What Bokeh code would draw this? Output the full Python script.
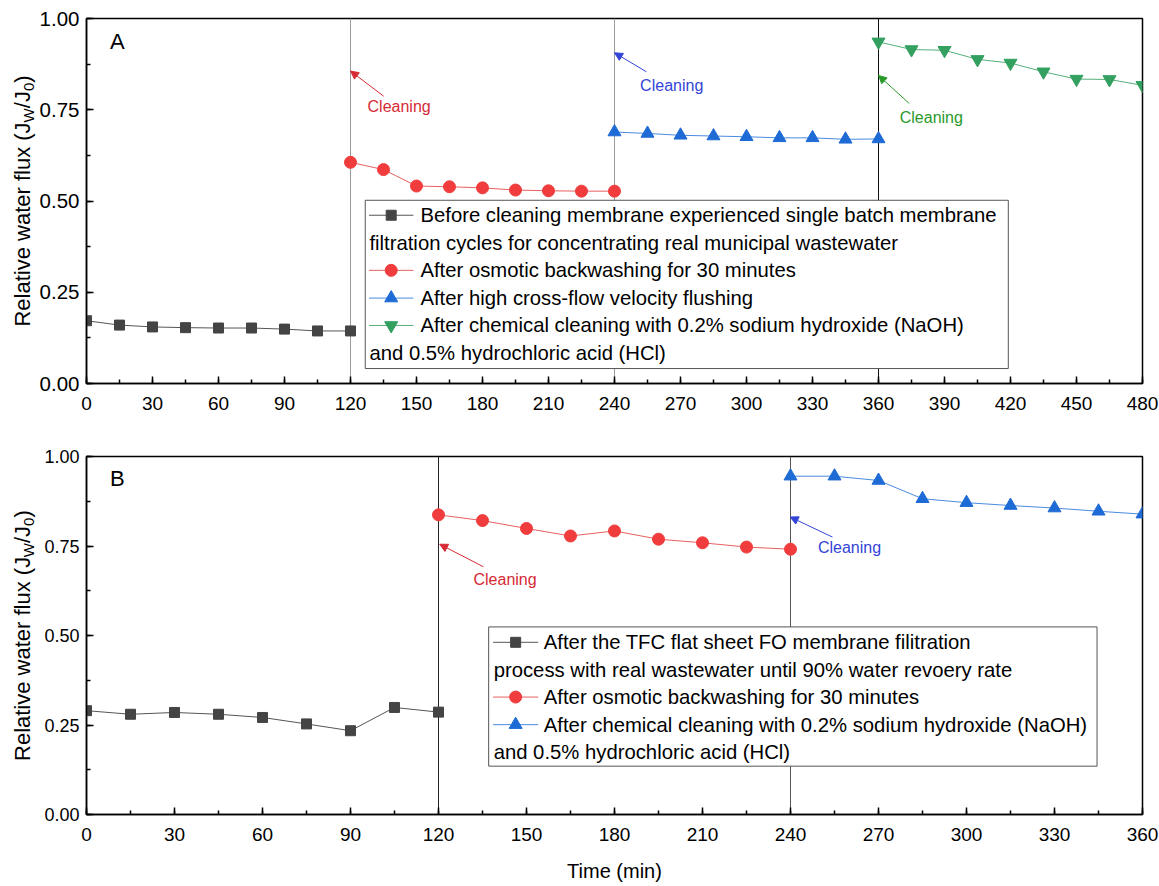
from bokeh.plotting import figure
from bokeh.layouts import column, row
from bokeh.models import (Range1d, SingleIntervalTicker, NumeralTickFormatter,
                          Span, Label, Arrow, NormalHead)
from bokeh.embed import file_html
from bokeh.resources import INLINE
import math

FONT = "Liberation Sans"

# ---------------- data : panel A ----------------
time_a_before = [0, 15, 30, 45, 60, 75, 90, 105, 120]
flux_a_before = [0.172, 0.160, 0.155, 0.153, 0.152, 0.152, 0.149, 0.144, 0.144]
time_a_osmotic = [120, 135, 150, 165, 180, 195, 210, 225, 240]
flux_a_osmotic = [0.606, 0.586, 0.541, 0.539, 0.536, 0.530, 0.528, 0.527, 0.527]
time_a_flush = [240, 255, 270, 285, 300, 315, 330, 345, 360]
flux_a_flush = [0.689, 0.685, 0.680, 0.678, 0.676, 0.673, 0.673, 0.669, 0.670]
time_a_chem = [360, 375, 390, 405, 420, 435, 450, 465, 480]
flux_a_chem = [0.936, 0.915, 0.913, 0.888, 0.878, 0.854, 0.834, 0.833, 0.817]

# ---------------- data : panel B ----------------
time_b_before = [0, 15, 30, 45, 60, 75, 90, 105, 120]
flux_b_before = [0.290, 0.280, 0.285, 0.280, 0.271, 0.253, 0.234, 0.299, 0.286]
time_b_osmotic = [120, 135, 150, 165, 180, 195, 210, 225, 240]
flux_b_osmotic = [0.837, 0.821, 0.799, 0.778, 0.792, 0.769, 0.759, 0.747, 0.741]
time_b_chem = [240, 255, 270, 285, 300, 315, 330, 345, 360]
flux_b_chem = [0.945, 0.945, 0.933, 0.882, 0.871, 0.863, 0.856, 0.847, 0.839]

legend_a = [
    "Before cleaning membrane experienced single batch membrane",
    "filtration cycles for concentrating real municipal wastewater",
    "After osmotic backwashing for 30 minutes",
    "After high cross-flow velocity flushing",
    "After chemical cleaning with 0.2% sodium hydroxide (NaOH)",
    "and 0.5% hydrochloric acid (HCl)",
]
legend_b = [
    "After the TFC flat sheet FO membrane filitration",
    "process with real wastewater until 90% water revoery rate",
    "After osmotic backwashing for 30 minutes",
    "After chemical cleaning with 0.2% sodium hydroxide (NaOH)",
    "and 0.5% hydrochloric acid (HCl)",
]
y_title_parts = ["Relative water flux (J", "W", "/J", "0", ")"]

# colours
C_BLACK, C_BLACK_LINE = "#444444", "#555555"
C_RED, C_RED_LINE = "#F03C3C", "#E86060"
C_BLUE, C_BLUE_LINE = "#1F6BD6", "#4A8BE0"
C_GREEN, C_GREEN_LINE = "#33A060", "#55B07A"
T_RED, T_BLUE, T_GREEN = "#D62A35", "#3444D6", "#2A9A2A"

# annotation positions (data units): arrow tail x, tail y, head x, head y / text x, text y
arrows_a = [(135.1, 0.787, 120.0, 0.856, T_RED), (254.5, 0.854, 240.0, 0.906, T_BLUE),
            (374.0, 0.767, 360.0, 0.844, T_GREEN)]
texts_a = [(142.1, 0.758, T_RED), (266.0, 0.817, T_BLUE), (384.0, 0.728, T_GREEN)]
arrows_b = [(135.3, 0.692, 120.4, 0.755, T_RED), (254.3, 0.775, 239.9, 0.831, T_BLUE)]
texts_b = [(142.7, 0.657, T_RED), (260.1, 0.745, T_BLUE)]

TW = 36            # width of the strip that carries the rotated y title
W = 1159 - TW      # main figure width
FRAME_W = 1056
BL = 86 - TW
BR = W - BL - FRAME_W
LEG_FS = "20.3px"


def style(p, ytick_size):
    p.xgrid.visible = False
    p.ygrid.visible = False
    p.outline_line_color = "black"
    p.outline_line_width = 1.5
    p.xaxis.ticker = SingleIntervalTicker(interval=30, num_minor_ticks=2)
    p.yaxis.ticker = SingleIntervalTicker(interval=0.25, num_minor_ticks=2)
    p.yaxis.formatter = NumeralTickFormatter(format="0.00")
    for ax in (p.xaxis, p.yaxis):
        ax.axis_line_width = 1.5
        ax.axis_line_color = "black"
        ax.major_tick_in = 7
        ax.major_tick_out = 0
        ax.minor_tick_in = 4
        ax.minor_tick_out = 0
        ax.major_tick_line_width = 1.5
        ax.minor_tick_line_width = 1.5
        ax.major_label_text_font = FONT
        ax.major_label_text_color = "black"
    p.xaxis.major_label_text_font_size = "19px"
    p.xaxis.major_label_standoff = 13
    p.yaxis.major_label_text_font_size = ytick_size
    p.yaxis.major_label_standoff = 7


def series(p, x, y, marker, size, color, line_color):
    p.line(x, y, line_color=line_color, line_width=1)
    p.scatter(x, y, marker=marker, size=size, fill_color=color, line_color=color)


def title_strip(height, top, frame_h):
    # frames in a row are aligned, so give the strip the same frame as its plot
    t = figure(width=TW, height=height, x_range=Range1d(0, TW), y_range=Range1d(0, frame_h),
               x_axis_type=None, y_axis_type=None, output_backend="svg", toolbar_location=None,
               min_border_left=0, min_border_right=0, min_border_top=top,
               min_border_bottom=height - top - frame_h)
    t.outline_line_color = None
    t.xgrid.visible = False
    t.ygrid.visible = False
    F, f = 22, 15
    sizes = [F, f, F, f, F]
    ems = [9.280, 0.944, 0.778, 0.556, 0.333]
    shifts = [0, 6.5, 0, 6.5, 0]
    total = sum(e * s for e, s in zip(ems, sizes))
    y = frame_h / 2 - total / 2
    for txt, s, e, sh in zip(y_title_parts, sizes, ems, shifts):
        w = e * s
        t.add_layout(Label(x=21.5, y=y + w / 2, text=txt, angle=math.pi / 2, x_offset=sh,
                           text_font=FONT, text_font_size=f"{s}px", text_align="center",
                           text_baseline="middle", text_color="black"))
        y += w
    return t


def legend(p, box, rows, xs_line, x_marker, x_text, x_cont, entries, lines):
    l, r, b, t = box
    p.quad(left=[l], right=[r], bottom=[b], top=[t], fill_color="white",
           line_color="#555555", line_width=1)
    for (yy, entry), txt in zip(zip(rows, entries), lines):
        if entry is None:
            p.add_layout(Label(x=x_cont, y=yy, text=txt, text_font=FONT, text_font_size=LEG_FS,
                               text_baseline="middle", text_color="black"))
        else:
            marker, size, color, line_color = entry
            p.line(xs_line, [yy, yy], line_color=line_color, line_width=1)
            p.scatter([x_marker], [yy], marker=marker, size=size, fill_color=color, line_color=color)
            p.add_layout(Label(x=x_text, y=yy, text=txt, text_font=FONT, text_font_size=LEG_FS,
                               text_baseline="middle", text_color="black"))


def cleaning(p, arrows, texts):
    for xs, ys, xe, ye, c in arrows:
        p.add_layout(Arrow(x_start=xs, y_start=ys, x_end=xe, y_end=ye, line_color=c, line_width=1,
                           end=NormalHead(size=8, fill_color=c, line_color=c, line_width=1)))
    for x, y, c in texts:
        p.add_layout(Label(x=x, y=y, text="Cleaning", text_font=FONT, text_font_size="16px",
                           text_align="center", text_baseline="middle", text_color=c))


# ---------------- panel A ----------------
HA, TOP_A, FH_A = 438, 18, 365
pA = figure(width=W, height=HA, x_range=Range1d(0, 480), y_range=Range1d(0, 1.0),
            output_backend="svg", toolbar_location=None,
            min_border_left=BL, min_border_right=BR, min_border_top=TOP_A,
            min_border_bottom=HA - TOP_A - FH_A)
style(pA, "20.5px")
for loc, col in ((120, "#9a9a9a"), (240, "#9a9a9a"), (360, "#111111")):
    pA.add_layout(Span(location=loc, dimension="height", line_color=col, line_width=1, level="underlay"))
series(pA, time_a_before, flux_a_before, "square", 10, C_BLACK, C_BLACK_LINE)
series(pA, time_a_osmotic, flux_a_osmotic, "circle", 12, C_RED, C_RED_LINE)
series(pA, time_a_flush, flux_a_flush, "triangle", 13, C_BLUE, C_BLUE_LINE)
series(pA, time_a_chem, flux_a_chem, "inverted_triangle", 13, C_GREEN, C_GREEN_LINE)
legend(pA, (126.7, 419.0, 0.041, 0.502), [0.461, 0.385, 0.310, 0.234, 0.159, 0.083],
       [128.4, 148.6], 138.5, 151.8, 128.6,
       [("square", 10, C_BLACK, C_BLACK_LINE), None, ("circle", 12, C_RED, C_RED_LINE),
        ("triangle", 13, C_BLUE, C_BLUE_LINE), ("inverted_triangle", 13, C_GREEN, C_GREEN_LINE), None],
       legend_a)
cleaning(pA, arrows_a, texts_a)
pA.add_layout(Label(x=14, y=0.936, text="A", text_font=FONT, text_font_size="22px",
                    text_align="center", text_baseline="middle", text_color="black"))
tA = title_strip(HA, TOP_A, FH_A)

# ---------------- panel B ----------------
HB, TOP_B, FH_B = 446, 18, 359
pB = figure(width=W, height=HB, x_range=Range1d(0, 360), y_range=Range1d(0, 1.0),
            output_backend="svg", toolbar_location=None,
            min_border_left=BL, min_border_right=BR, min_border_top=TOP_B,
            min_border_bottom=HB - TOP_B - FH_B)
style(pB, "18px")
pB.xaxis.axis_label = "Time (min)"
pB.xaxis.axis_label_text_font = FONT
pB.xaxis.axis_label_text_font_size = "20px"
pB.xaxis.axis_label_text_font_style = "normal"
pB.xaxis.axis_label_text_color = "black"
pB.xaxis.axis_label_standoff = 16
for loc, col in ((120, "#222222"), (240, "#555555")):
    pB.add_layout(Span(location=loc, dimension="height", line_color=col, line_width=1, level="underlay"))
series(pB, time_b_before, flux_b_before, "square", 10, C_BLACK, C_BLACK_LINE)
series(pB, time_b_osmotic, flux_b_osmotic, "circle", 12, C_RED, C_RED_LINE)
series(pB, time_b_chem, flux_b_chem, "triangle", 13, C_BLUE, C_BLUE_LINE)
legend(pB, (137.1, 344.5, 0.135, 0.524), [0.481, 0.404, 0.328, 0.251, 0.175],
       [138.6, 154.0], 146.3, 155.9, 138.8,
       [("square", 10, C_BLACK, C_BLACK_LINE), None, ("circle", 12, C_RED, C_RED_LINE),
        ("triangle", 13, C_BLUE, C_BLUE_LINE), None],
       legend_b)
cleaning(pB, arrows_b, texts_b)
pB.add_layout(Label(x=10.5, y=0.938, text="B", text_font=FONT, text_font_size="22px",
                    text_align="center", text_baseline="middle", text_color="black"))
tB = title_strip(HB, TOP_B, FH_B)

layout = column(row(tA, pA), row(tB, pB))
open("out.html", "w").write(file_html(layout, INLINE))
